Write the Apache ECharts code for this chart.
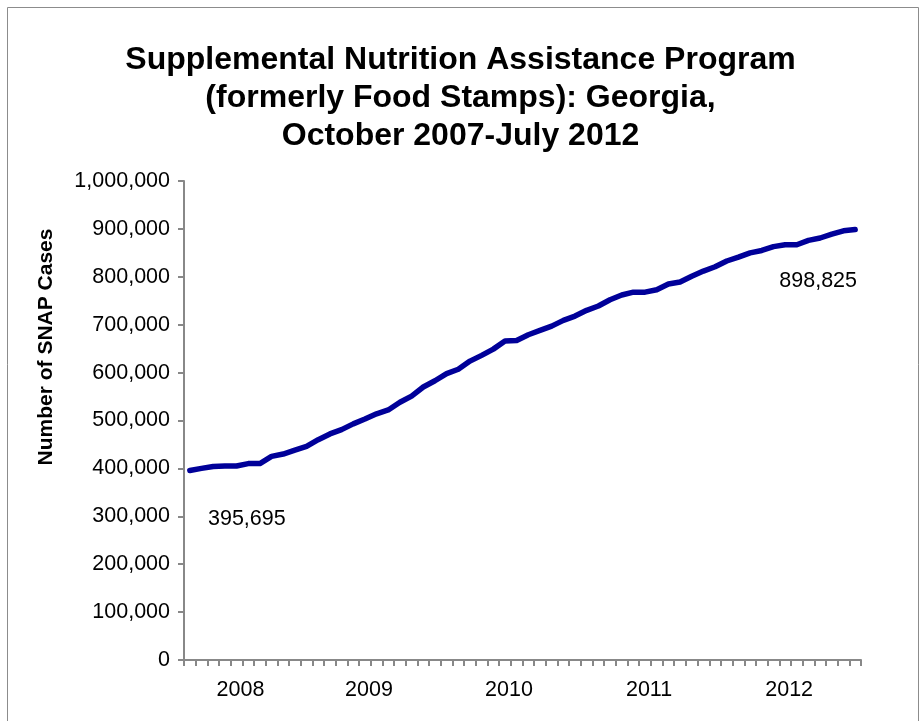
<!DOCTYPE html>
<html>
<head>
<meta charset="utf-8">
<script src="https://cdn.jsdelivr.net/npm/echarts@6/dist/echarts.min.js"></script>
<style>
html,body{margin:0;padding:0;background:#fff;}
#c{width:921px;height:721px;}
</style>
</head>
<body>
<div id="c"></div>
<script>
// Months Oct 2007 .. Jul 2012 (58 months)
const months = [
 'Oct 2007','Nov 2007','Dec 2007',
 'Jan 2008','Feb 2008','Mar 2008','Apr 2008','May 2008','Jun 2008','Jul 2008','Aug 2008','Sep 2008','Oct 2008','Nov 2008','Dec 2008',
 'Jan 2009','Feb 2009','Mar 2009','Apr 2009','May 2009','Jun 2009','Jul 2009','Aug 2009','Sep 2009','Oct 2009','Nov 2009','Dec 2009',
 'Jan 2010','Feb 2010','Mar 2010','Apr 2010','May 2010','Jun 2010','Jul 2010','Aug 2010','Sep 2010','Oct 2010','Nov 2010','Dec 2010',
 'Jan 2011','Feb 2011','Mar 2011','Apr 2011','May 2011','Jun 2011','Jul 2011','Aug 2011','Sep 2011','Oct 2011','Nov 2011','Dec 2011',
 'Jan 2012','Feb 2012','Mar 2012','Apr 2012','May 2012','Jun 2012','Jul 2012'
];
// SNAP cases (estimated from the picture except first and last)
const snapCases = [
 395695, 400000, 404000,
 405000, 405000, 410000, 410000, 425000, 430000, 438000, 446000, 460000, 472000, 481000, 493000,
 503000, 514000, 522000, 538000, 551000, 570000, 583000, 598000, 607000, 624000, 636000, 649000,
 666000, 667000, 679000, 688000, 697000, 709000, 718000, 730000, 739000, 752000, 762000, 768000,
 768000, 773000, 785000, 789000, 801000, 812000, 821000, 833000, 841000, 850000, 855000, 863000,
 867000, 867000, 876000, 881000, 889000, 896000, 898825
];
// Year tick labels and the month at which each is shown
const yearLabels = ['2008','2009','2010','2011','2012'];
const yearLabelMonths = ['Feb 2008','Jan 2009','Jan 2010','Jan 2011','Jan 2012'];

const FONT = 'Liberation Sans, Arial, sans-serif';
const chart = echarts.init(document.getElementById('c'));

const fmt = v => Number(v).toLocaleString('en-US');
const last = snapCases.length - 1;

chart.setOption({
  backgroundColor: '#fff',
  animation: false,
  title: {
    text: 'Supplemental Nutrition Assistance Program\n(formerly Food Stamps): Georgia,\nOctober 2007-July 2012',
    left: 'center',
    top: 36,
    textStyle: {fontFamily: FONT, fontSize: 32, fontWeight: 'bold', color: '#000', lineHeight: 38}
  },
  graphic: [
    {type: 'rect', shape: {x: 7.5, y: 7.5, width: 911, height: 730}, style: {fill: 'none', stroke: '#8c8c8c', lineWidth: 1}, silent: true},
    {type: 'text', x: 46, y: 347, rotation: Math.PI / 2,
      style: {text: 'Number of SNAP Cases', fontFamily: FONT, fontSize: 21, fontWeight: 'bold', fill: '#000',
        textAlign: 'center', textVerticalAlign: 'middle'}}
  ],
  grid: {left: 184, right: 60, top: 181, bottom: 61},
  xAxis: {
    type: 'category',
    data: months,
    boundaryGap: true,
    axisLine: {lineStyle: {color: '#888', width: 2}},
    axisTick: {show: true, interval: 0, length: 6, lineStyle: {color: '#888', width: 2}},
    axisLabel: {
      interval: 0,
      margin: 19,
      padding: [0, 0, 0, 8],
      fontFamily: FONT, fontSize: 21.5, color: '#000',
      formatter: v => { const k = yearLabelMonths.indexOf(v); return k >= 0 ? yearLabels[k] : ''; }
    },
    splitLine: {show: false}
  },
  yAxis: {
    type: 'value',
    min: 0, max: 1000000, interval: 100000,
    axisLine: {show: true, lineStyle: {color: '#888', width: 2}},
    axisTick: {show: true, length: 6, lineStyle: {color: '#888', width: 2}},
    axisLabel: {margin: 14, fontFamily: FONT, fontSize: 21.5, color: '#000', formatter: fmt},
    splitLine: {show: false}
  },
  series: [{
    type: 'line',
    data: snapCases,
    showSymbol: false,
    symbol: 'none',
    lineStyle: {color: '#000099', width: 5.5, join: 'round', cap: 'round'},
    silent: true,
    markPoint: {
      symbol: 'circle',
      symbolSize: 0,
      silent: true,
      label: {show: true, position: 'inside', fontFamily: FONT, fontSize: 21.5, color: '#000',
        formatter: p => fmt(p.value)},
      data: [
        {coord: [months[0], snapCases[0]], value: snapCases[0], label: {offset: [57, 49]}},
        {coord: [months[last], snapCases[last]], value: snapCases[last], label: {offset: [-37, 52]}}
      ]
    }
  }]
});
</script>
</body>
</html>
